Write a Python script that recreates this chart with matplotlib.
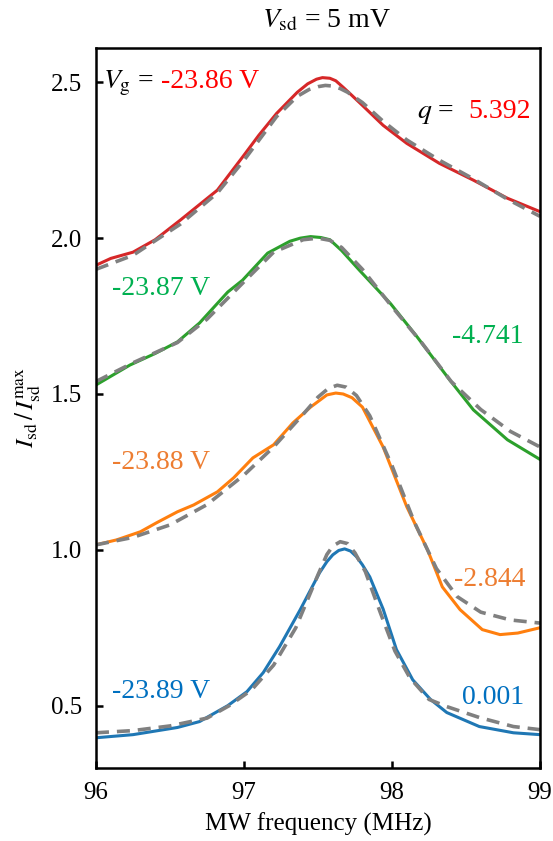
import matplotlib
matplotlib.use("Agg")
import matplotlib.pyplot as plt

plt.rcParams['font.family'] = ['Liberation Serif', 'DejaVu Serif']
plt.rcParams['mathtext.fontset'] = 'stix'

# measured curves (solid) and Fano fits (dashed), offsets included
red_f = [96.0, 96.1, 96.25, 96.4, 96.57, 96.82, 96.99, 97.1, 97.22, 97.36, 97.43, 97.49, 97.53,
         97.58, 97.62, 97.67, 97.72, 97.8, 97.94, 98.1, 98.32, 98.55, 98.78, 99.0]
red_y = [1.913, 1.935, 1.955, 1.995, 2.058, 2.154, 2.26, 2.33, 2.40, 2.468, 2.495, 2.51, 2.515,
         2.513, 2.505, 2.484, 2.462, 2.426, 2.362, 2.304, 2.24, 2.186, 2.128, 2.085]
red_fit_f = [96.0, 96.25, 96.57, 96.82, 97.0, 97.22, 97.36, 97.44, 97.5, 97.55, 97.6, 97.65,
             97.7, 97.8, 97.94, 98.1, 98.32, 98.55, 98.78, 99.0]
red_fit_y = [1.90, 1.945, 2.045, 2.145, 2.25, 2.39, 2.455, 2.477, 2.486, 2.49, 2.488, 2.48,
             2.468, 2.435, 2.375, 2.315, 2.25, 2.19, 2.125, 2.07]

green_f = [96.0, 96.23, 96.4, 96.55, 96.7, 96.89, 96.99, 97.16, 97.31, 97.38, 97.45, 97.52,
           97.58, 97.66, 97.78, 97.99, 98.17, 98.39, 98.55, 98.78, 99.0]
green_y = [1.529, 1.593, 1.63, 1.667, 1.728, 1.827, 1.865, 1.952, 1.99, 2.0, 2.005, 2.002,
           1.995, 1.96, 1.897, 1.79, 1.683, 1.545, 1.449, 1.353, 1.29]
green_fit_f = [96.0, 96.25, 96.55, 96.75, 97.0, 97.2, 97.4, 97.5, 97.58, 97.66, 97.8, 98.0,
               98.2, 98.4, 98.6, 98.8, 99.0]
green_fit_y = [1.54, 1.60, 1.665, 1.74, 1.86, 1.955, 1.995, 2.0, 1.993, 1.97, 1.9, 1.78,
               1.665, 1.54, 1.45, 1.38, 1.33]

orange_f = [96.0, 96.14, 96.30, 96.41, 96.55, 96.66, 96.82, 96.93, 97.06, 97.20, 97.33, 97.45,
            97.56, 97.62, 97.67, 97.73, 97.80, 97.94, 98.10, 98.24, 98.34, 98.46, 98.61, 98.73,
            98.85, 99.0]
orange_y = [1.016, 1.032, 1.058, 1.087, 1.122, 1.144, 1.186, 1.231, 1.295, 1.337, 1.407, 1.458,
            1.497, 1.503, 1.50, 1.488, 1.458, 1.33, 1.138, 1.0, 0.881, 0.808, 0.744, 0.728,
            0.733, 0.75]
orange_fit_f = [96.0, 96.25, 96.5, 96.75, 97.0, 97.2, 97.4, 97.5, 97.57, 97.63, 97.69, 97.76,
                97.85, 98.0, 98.15, 98.3, 98.44, 98.6, 98.8, 99.0]
orange_fit_y = [1.016, 1.04, 1.08, 1.145, 1.24, 1.33, 1.435, 1.49, 1.518, 1.528, 1.522, 1.495,
                1.43, 1.27, 1.09, 0.94, 0.85, 0.80, 0.775, 0.765]

blue_f = [96.0, 96.25, 96.55, 96.70, 96.89, 97.02, 97.13, 97.24, 97.38, 97.51, 97.56, 97.60,
          97.64, 97.68, 97.72, 97.76, 97.80, 97.85, 97.94, 98.03, 98.14, 98.26, 98.37, 98.59,
          98.82, 99.0]
blue_y = [0.397, 0.407, 0.43, 0.449, 0.50, 0.545, 0.606, 0.689, 0.808, 0.926, 0.962, 0.984,
          0.998, 1.003, 0.996, 0.978, 0.952, 0.913, 0.81, 0.68, 0.583, 0.52, 0.478, 0.433,
          0.413, 0.407]
blue_fit_f = [96.0, 96.25, 96.5, 96.75, 96.9, 97.05, 97.2, 97.35, 97.5, 97.56, 97.6, 97.65,
              97.7, 97.75, 97.82, 97.92, 98.02, 98.12, 98.25, 98.37, 98.59, 98.82, 99.0]
blue_fit_y = [0.413, 0.42, 0.435, 0.46, 0.50, 0.55, 0.63, 0.75, 0.92, 0.985, 1.012, 1.026,
              1.02, 0.99, 0.93, 0.80, 0.675, 0.59, 0.52, 0.497, 0.462, 0.433, 0.423]

gate_labels = ['-23.86 V', '-23.87 V', '-23.88 V', '-23.89 V']
q_labels = ['5.392', '-4.741', '-2.844', '0.001']
line_colors = ['#d62728', '#2ca02c', '#ff7f0e', '#1f77b4']
text_colors = ['#ff0000', '#00b050', '#ed7d31', '#0070c0']

fig = plt.figure(figsize=(5.53, 8.41), dpi=100)
ax = fig.add_axes([0.1736, 0.0868, 0.8029, 0.8561])

curves = [(red_f, red_y, red_fit_f, red_fit_y),
          (green_f, green_y, green_fit_f, green_fit_y),
          (orange_f, orange_y, orange_fit_f, orange_fit_y),
          (blue_f, blue_y, blue_fit_f, blue_fit_y)]
for (f, y, ff, fy), c in zip(curves, line_colors):
    ax.plot(f, y, color=c, lw=2.2, solid_joinstyle='round')
    ax.plot(ff, fy, color='gray', lw=2.6, dashes=(3.6, 2.2))

fs = 20
# gate voltage labels
ax.text(96.05, 2.481, r'$V_\mathrm{g}$ =', fontsize=fs, ha='left', va='baseline')
ax.text(96.44, 2.481, gate_labels[0], fontsize=fs, color=text_colors[0], ha='left', va='baseline')
ax.text(96.11, 1.84, gate_labels[1], fontsize=fs, color=text_colors[1], ha='left', va='center')
ax.text(96.11, 1.279, gate_labels[2], fontsize=fs, color=text_colors[2], ha='left', va='center')
ax.text(96.11, 0.545, gate_labels[3], fontsize=fs, color=text_colors[3], ha='left', va='center')

# Fano q labels
ax.text(98.17, 2.385, r'$q$ =', fontsize=fs, ha='left', va='baseline')
ax.text(98.94, 2.385, q_labels[0], fontsize=fs, color=text_colors[0], ha='right', va='baseline')
ax.text(98.89, 1.683, q_labels[1], fontsize=fs, color=text_colors[1], ha='right', va='center')
ax.text(98.9, 0.904, q_labels[2], fontsize=fs, color=text_colors[2], ha='right', va='center')
ax.text(98.89, 0.526, q_labels[3], fontsize=fs, color=text_colors[3], ha='right', va='center')

ax.set_xlim(96, 99)
ax.set_ylim(0.30, 2.61)
ax.set_xticks([96, 97, 98, 99])
ax.set_yticks([0.5, 1.0, 1.5, 2.0, 2.5])
ax.tick_params(direction='in', length=5, width=1.8, labelsize=18, pad=10)
for s in ax.spines.values():
    s.set_linewidth(1.8)

ax.set_xlabel('MW frequency (MHz)', fontsize=18, labelpad=6)
ax.set_ylabel(r'$I_\mathrm{sd}\,/\,I_\mathrm{sd}^\mathrm{max}$', fontsize=18, labelpad=6)
ax.set_title(r'$V_\mathrm{sd}$ = 5 mV', fontsize=20, pad=15, x=0.52)

fig.savefig('out.png', dpi=100)
